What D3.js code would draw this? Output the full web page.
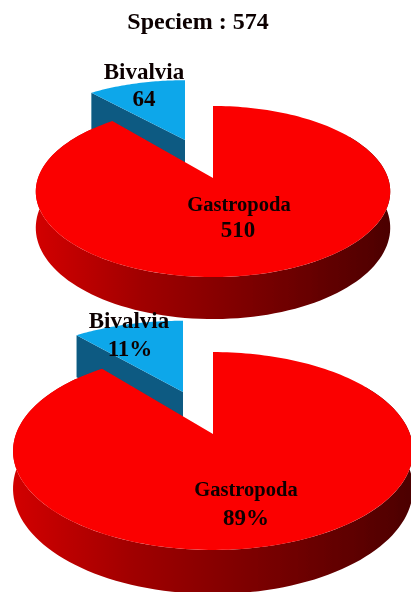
<!DOCTYPE html>
<html><head><meta charset="utf-8">
<style>html,body{margin:0;padding:0;background:#fff;overflow:hidden}svg{display:block}
text{font-family:"Liberation Serif",serif;font-weight:bold;fill:#0a0505;text-anchor:middle;dominant-baseline:central}</style>
<script src="https://cdn.jsdelivr.net/npm/d3@7/dist/d3.min.js"></script></head>
<body><script>
const titleText = "Speciem : 574";
const categories = ["Gastropoda", "Bivalvia"];
const counts = [510, 64];
const percents = [89, 11];
const countLabels = ["510", "64"];
const percentLabels = ["89%", "11%"];

const W = 411, H = 592;
const svg = d3.select("body").append("svg").attr("width", W).attr("height", H);
const defs = svg.append("defs");
defs.append("filter").attr("id","soft").attr("x","-5%").attr("y","-5%").attr("width","110%").attr("height","110%")
  .append("feGaussianBlur").attr("stdDeviation",0.7);
const red = defs.append("linearGradient").attr("id","sideRed");
[[0,"#d20000"],[0.3,"#a00000"],[0.6,"#7c0000"],[1,"#4c0000"]].forEach(s=>red.append("stop").attr("offset",s[0]).attr("stop-color",s[1]));

const root = svg.append("g").attr("filter","url(#soft)");
root.append("text").attr("x",198).attr("y",21).attr("font-size",24).text(titleText);

const layouts = [
 {values:counts, labels:countLabels,
  apex:[213,178], c:175, a:83.4, k:0.158, depth:42,
  apexB:[185,140], scaleX:0.93, scaleY:0.83, depthB:40,
  nameG:[239,204], valG:[238,229], nameB:[144,71], valB:[144,98]},
 {values:percents, labels:percentLabels,
  apex:[213,434], c:197, a:96, k:0.172, depth:44,
  apexB:[183,392], scaleX:0.96, scaleY:0.87, depthB:42,
  nameG:[246,489], valG:[246,517], nameB:[129,320], valB:[130,348]}
];

const pie = d3.pie().sort(null);
const line = d3.line();

function drawPie(p){
  const arcs = pie(p.values);
  const gas = arcs[0], biv = arcs[1];
  const proj = (t, ox, oy, sx, sy) => {
    const x = Math.sin(t), y = -Math.cos(t), d = 1 - p.k*y;
    return [ox + sx*p.c*x/d, oy + sy*p.a*y/d];
  };
  const drop = (t, dep) => { const y=-Math.cos(t); return dep*(1-p.k)/(1-p.k*y); };
  const angles = (a,b,n=120) => d3.range(n+1).map(i=>a+(b-a)*i/n);

  // Bivalvia wedge, pulled out: cut face, then top
  const [bx,by] = p.apexB;
  const bPt = t => proj(t,bx,by,p.scaleX,p.scaleY);
  const bL = bPt(biv.startAngle), dB = p.depthB;
  root.append("path").attr("fill","#0a5a82")
    .attr("d", line([[bx,by],bL,[bL[0],bL[1]+dB],[bx,by+dB]])+"Z");
  root.append("path").attr("fill","#0ea7ea")
    .attr("d", line([[bx,by],...angles(biv.startAngle,biv.endAngle,40).map(bPt)])+"Z");

  // Gastropoda side wall
  const [ax,ay] = p.apex;
  const wall = angles(Math.PI*0.32, Math.PI*1.72);
  const upper = wall.map(t=>proj(t,ax,ay,1,1));
  const lower = wall.map((t,i)=>[upper[i][0],upper[i][1]+drop(t,p.depth)]).reverse();
  root.append("path").attr("fill","url(#sideRed)").attr("d", line([...upper,...lower])+"Z");

  // Gastropoda top face
  root.append("path").attr("fill","#fb0000")
    .attr("d", line([[ax,ay],...angles(gas.startAngle,gas.endAngle,200).map(t=>proj(t,ax,ay,1,1))])+"Z");

  // Labels
  const lab=(pos,txt,size)=>root.append("text").attr("x",pos[0]).attr("y",pos[1]).attr("font-size",size).text(txt);
  lab(p.nameG,categories[0],20.5); lab(p.valG,p.labels[0],23);
  lab(p.nameB,categories[1],23); lab(p.valB,p.labels[1],23);
}
layouts.forEach(drawPie);
</script></body></html>
